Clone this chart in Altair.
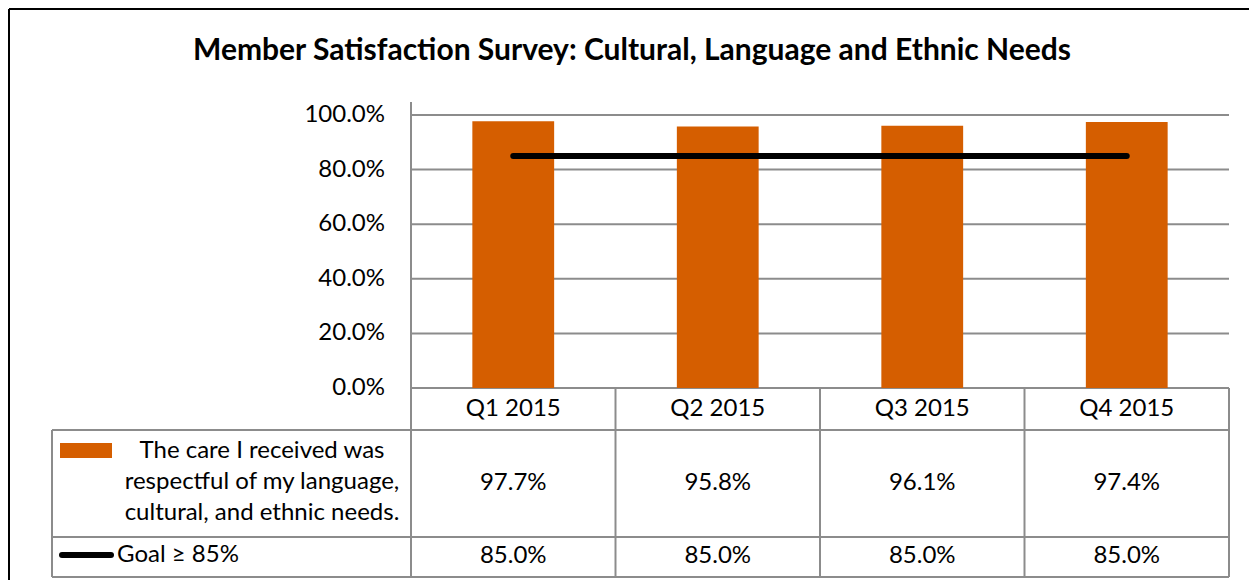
import altair as alt
import pandas as pd

# ---- data ----
categories = ["Q1 2015", "Q2 2015", "Q3 2015", "Q4 2015"]
respect_pct = [0.977, 0.958, 0.961, 0.974]
goal_pct = [0.85, 0.85, 0.85, 0.85]
y_ticks = [0.0, 0.2, 0.4, 0.6, 0.8, 1.0]
series_lines = ["The care I received was", "respectful of my language,", "cultural, and ethnic needs."]
goal_label = "Goal \u2265 85%"
title_text = "Member Satisfaction Survey: Cultural, Language and Ethnic Needs"

# ---- styling / layout ----
FONT = "Lato"
ORANGE = "#D55E00"
GRID = "#8C8C8C"
FS = 24

W, H = 1177, 477
STEP = 204.5
LABEL_COL = 359 / STEP           # legend column width in category units
ZERO_PX = 288                    # pixel row of 0 %
PX_PER_UNIT = 273
x_scale = alt.Scale(domain=[-LABEL_COL, 4], nice=False, zero=False)
y_scale = alt.Scale(domain=[-(H - ZERO_PX) / PX_PER_UNIT, ZERO_PX / PX_PER_UNIT], nice=False, zero=False)

df = pd.DataFrame({"cat": categories, "idx": list(range(len(categories))),
                   "val": respect_pct, "goal": goal_pct})
ticks = pd.DataFrame({"t": y_ticks})
one = alt.Data(values=[{"k": 0}])


def XD(v):
    return alt.XDatum(v, type="quantitative", scale=x_scale, axis=None)


def X2D(v):
    return alt.X2Datum(v)


base = alt.Chart(df)

# gridlines (0..100 %)
grid = alt.Chart(ticks).mark_rule(color=GRID, strokeWidth=2).encode(
    y=alt.Y("t:Q", scale=y_scale, axis=None),
    x=XD(0), x2=X2D(4),
)

# y tick labels
ylabels = alt.Chart(ticks).mark_text(align="right", baseline="middle", font=FONT, fontSize=FS, color="black").encode(
    y=alt.Y("t:Q", scale=y_scale, axis=None),
    x=alt.value(333),
    text=alt.Text("t:Q", format=".1%"),
)

# bars
bars = base.mark_bar(color=ORANGE).transform_calculate(
    b0="datum.idx + 0.3", b1="datum.idx + 0.7"
).encode(
    x=alt.X("b0:Q", scale=x_scale, axis=None),
    x2="b1:Q",
    y=alt.Y("val:Q", scale=y_scale, axis=None),
    y2=alt.Y2Datum(0),
)

# goal line
goal_line = base.mark_line(color="black", strokeWidth=6, strokeCap="round").transform_calculate(
    c="datum.idx + 0.5"
).encode(
    x=alt.X("c:Q", scale=x_scale, axis=None),
    y=alt.Y("goal:Q", scale=y_scale, axis=None),
)

# table structure
axis_line = alt.Chart(one).mark_rule(color=GRID, strokeWidth=2).encode(
    x=XD(0), y=alt.value(2), y2=alt.value(H))
left_line = alt.Chart(one).mark_rule(color=GRID, strokeWidth=2).encode(
    x=XD(-LABEL_COL), y=alt.value(330), y2=alt.value(H))
col_lines = base.mark_rule(color=GRID, strokeWidth=2).transform_calculate(
    e="datum.idx + 1"
).encode(
    x=alt.X("e:Q", scale=x_scale, axis=None), y=alt.value(ZERO_PX), y2=alt.value(H))
row_lines = [
    alt.Chart(one).mark_rule(color=GRID, strokeWidth=2).encode(
        x=XD(-LABEL_COL), x2=X2D(4), y=alt.value(py))
    for py in (330, 437, H)
]

# table texts
cat_text = base.mark_text(font=FONT, fontSize=FS, baseline="middle", color="black").transform_calculate(
    c="datum.idx + 0.5"
).encode(
    x=alt.X("c:Q", scale=x_scale, axis=None), y=alt.value(309), text="cat:N")
val_text = base.mark_text(font=FONT, fontSize=FS, baseline="middle", color="black").transform_calculate(
    c="datum.idx + 0.5"
).encode(
    x=alt.X("c:Q", scale=x_scale, axis=None), y=alt.value(383),
    text=alt.Text("val:Q", format=".1%"))
goal_text = base.mark_text(font=FONT, fontSize=FS, baseline="middle", color="black").transform_calculate(
    c="datum.idx + 0.5"
).encode(
    x=alt.X("c:Q", scale=x_scale, axis=None), y=alt.value(456),
    text=alt.Text("goal:Q", format=".1%"))

# legend column
legend_df = pd.DataFrame({"line": series_lines, "i": list(range(len(series_lines)))})
legend_text = alt.Chart(legend_df).mark_text(font=FONT, fontSize=FS, align="center", baseline="alphabetic",
                                             color="black").transform_calculate(
    py="358 + 31 * datum.i"
).encode(
    x=alt.value(210), y=alt.Y("py:Q", scale=None), text="line:N")
swatch = alt.Chart(one).mark_rect(color=ORANGE).encode(
    x=alt.value(8), x2=alt.value(60), y=alt.value(343), y2=alt.value(358))
goal_swatch = alt.Chart(one).mark_rule(color="black", strokeWidth=6, strokeCap="round").encode(
    x=alt.value(10), x2=alt.value(59), y=alt.value(455))
goal_lbl = alt.Chart(one).mark_text(font=FONT, fontSize=FS, align="left", baseline="middle", color="black").encode(
    x=alt.value(65), y=alt.value(455), text=alt.value(goal_label))

# title and outer frame
title = alt.Chart(one).mark_text(font=FONT, fontSize=30, fontWeight="bold", align="center", baseline="middle",
                                 color="black").encode(
    x=alt.value(580), y=alt.value(-49), text=alt.value(title_text))
frame_top = alt.Chart(one).mark_rule(color="black", strokeWidth=2).encode(
    x=alt.value(-43), x2=alt.value(W + 40), y=alt.value(-91))
frame_left = alt.Chart(one).mark_rule(color="black", strokeWidth=2).encode(
    x=alt.value(-43), y=alt.value(-91), y2=alt.value(H + 10))

chart = alt.layer(
    grid, bars, goal_line, axis_line, left_line, col_lines, *row_lines,
    ylabels, cat_text, val_text, goal_text, legend_text, swatch, goal_swatch, goal_lbl,
    title, frame_top, frame_left,
).properties(
    width=W, height=H,
    autosize=alt.AutoSizeParams(type="none"),
    padding={"left": 44, "top": 92, "right": 20, "bottom": 3},
).configure_view(stroke=None)

chart.save("out.html", embed_options={"renderer": "svg", "actions": False})
